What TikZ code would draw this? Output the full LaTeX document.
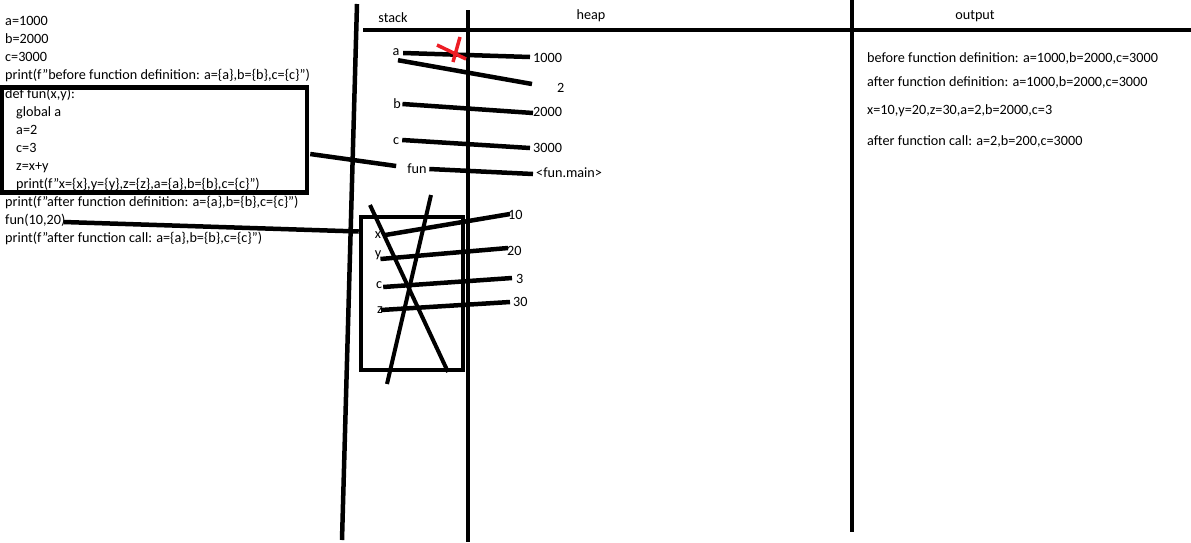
\documentclass[tikz,border=0pt]{standalone}
\usepackage{fontspec}
\setmainfont{Carlito}
\usetikzlibrary{positioning}
\definecolor{paintRed}{HTML}{ED1C24}
\tikzset{
  txt/.style={font=\fontsize{14.2}{16}\selectfont, inner sep=0pt,
    text height=9pt, text depth=3pt},
  code/.style={txt, anchor=west},
  var/.style={txt},
  val/.style={txt, anchor=west},
  outline/.style={txt, anchor=west},
  pen/.style={line width=4.5pt, draw=black},
  ref/.style={line width=4.5pt, draw=black},
  strike/.style={line width=4pt, draw=black},
  redpen/.style={line width=3.5pt, draw=paintRed},
  frame box/.style={draw, line width=4.5pt, inner sep=0pt}
}
\begin{document}
\begin{tikzpicture}[x=1pt, y=-1pt]
  \useasboundingbox[fill=white] (0,0) rectangle (1191,542);

  % program text
  \node[code] (l1) at (5,22) {a=1000};
  \node[code] (l2) at (5,40) {b=2000};
  \node[code] (l3) at (5,58) {c=3000};
  \node[code] (l4) at (5,76) {print(f"before function definition: a=\{a\},b=\{b\},c=\{c\}")};
  \node[code] (l5) at (5,95) {def fun(x,y):};
  \node[code] (l6) at (16,113) {global a};
  \node[code] (l7) at (16,131) {a=2};
  \node[code] (l8) at (16,149) {c=3};
  \node[code] (l9) at (16,167) {z=x+y};
  \node[code] (l10) at (16,185) {print(f"x=\{x\},y=\{y\},z=\{z\},a=\{a\},b=\{b\},c=\{c\}")};
  \node[code] (l11) at (5,203) {print(f"after function definition: a=\{a\},b=\{b\},c=\{c\}")};
  \node[code] (call) at (5,221) {fun(10,20)};
  \node[code] (l13) at (5,239) {print(f"after function call: a=\{a\},b=\{b\},c=\{c\}")};
  \node[frame box, minimum width=305pt, minimum height=105pt] (defbox) at (154.5,140) {};

  % columns
  \draw[pen] (357,4) -- (342,540);
  \draw[pen] (468,10) -- (468,542);
  \draw[pen] (852,0) -- (852,532);
  \draw[pen] (363,30) -- (1191,30);
  \node[txt] (stack) at (393,19) {stack};
  \node[txt] (heap) at (591,16) {heap};
  \node[txt] (output) at (975,16) {output};

  % global names and objects
  \node[var] (sa) at (396,52) {a};
  \node[var] (sb) at (397,105) {b};
  \node[var] (sc) at (396,141) {c};
  \node[var] (sfun) at (417,170) {fun};
  \node[val] (v1000) at (533,59) {1000};
  \node[val] (v2) at (557,89) {2};
  \node[val] (v2000) at (533,113) {2000};
  \node[val] (v3000) at (533,149) {3000};
  \node[val] (vfm) at (536,174) {<fun.main>};
  \draw[ref] ([shift={(3.5,1)}]sa.east) -- ([shift={(-3,-2)}]v1000.west);
  \draw[ref] ([shift={(2,2)}]sa.south) -- ([shift={(-25,-5)}]v2.west);
  \draw[ref] ([shift={(1.5,-1)}]sb.east) -- ([shift={(0,0)}]v2000.west);
  \draw[ref] ([shift={(3,-1)}]sc.east) -- ([shift={(-3,-1)}]v3000.west);
  \draw[ref] ([shift={(2.5,-1)}]sfun.east) -- ([shift={(-3,0)}]vfm.west);
  \draw[ref] ([shift={(1,14)}]defbox.east) -- ([shift={(-11,-4)}]sfun.west);
  \draw[redpen] (437,45) -- (466,59);
  \draw[redpen] (460,37) -- (453,62);

  % call frame of fun
  \node[frame box, minimum width=102pt, minimum height=153pt] (frame) at (412,293.5) {};
  \draw[ref] ([shift={(-2,1)}]call.east) -- ([shift={(0,-62)}]frame.west);
  \node[var] (fx) at (378,235) {x};
  \node[var] (fy) at (378,254) {y};
  \node[var] (fc) at (379,285) {c};
  \node[var] (fz) at (380,310) {z};
  \node[val] (v10) at (508,216) {10};
  \node[val] (v20) at (507,252) {20};
  \node[val] (v3) at (516,280) {3};
  \node[val] (v30) at (513,303) {30};
  \draw[ref] ([shift={(4,0)}]fx.east) -- ([shift={(2,-2)}]v10.west);
  \draw[ref] ([shift={(-1,5)}]fy.east) -- ([shift={(1,-4)}]v20.west);
  \draw[ref] ([shift={(1,2)}]fc.east) -- ([shift={(-4,-2)}]v3.west);
  \draw[ref] ([shift={(-2,0)}]fz.east) -- ([shift={(-3,-1)}]v30.west);
  \draw[strike] (370,205) -- (448,372);
  \draw[strike] (431,195) -- (387,384);

  % printed output
  \node[outline] (o1) at (867,59) {before function definition: a=1000,b=2000,c=3000};
  \node[outline] (o2) at (867,83) {after function definition: a=1000,b=2000,c=3000};
  \node[outline] (o3) at (867,111) {x=10,y=20,z=30,a=2,b=2000,c=3};
  \node[outline] (o4) at (867,142) {after function call: a=2,b=200,c=3000};
\end{tikzpicture}
\end{document}
